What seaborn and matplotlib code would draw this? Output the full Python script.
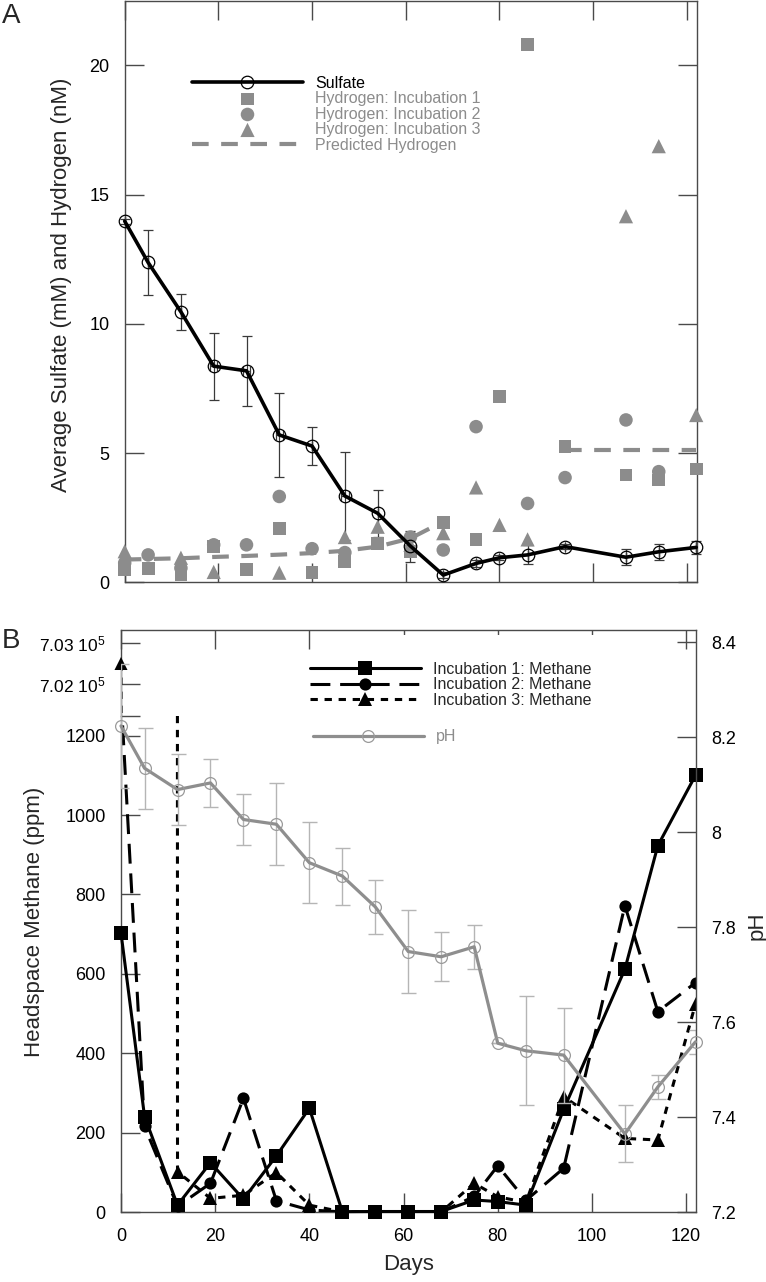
import numpy as np
import matplotlib
matplotlib.use('Agg')
import matplotlib.pyplot as plt
from matplotlib.patches import Rectangle
import seaborn as sns

# ---------------------------------------------------------------------------
# data
# ---------------------------------------------------------------------------
days = [0, 5, 12, 19, 26, 33, 40, 47, 54, 61, 68, 75, 80, 86, 94, 107, 114, 122]

# panel A
sulfate = [13.97, 12.37, 10.46, 8.36, 8.18, 5.70, 5.27, 3.34, 2.67, 1.40,
           0.28, 0.73, 0.95, 1.06, 1.38, 0.97, 1.18, 1.35]
sulfate_err = [0.1, 1.26, 0.7, 1.29, 1.35, 1.64, 0.73, 1.71, 0.9, 0.6,
               0.1, 0.15, 0.1, 0.37, 0.1, 0.3, 0.3, 0.25]
sulfate_xerr = [0, 0, 0, 0.8, 0.8, 0.8, 0, 0.8, 0, 0, 0, 0, 0, 0, 0, 0, 0, 0]

h2_inc1 = [0.5, 0.54, 0.3, 1.38, 0.48, 2.09, 0.37, 0.8, 1.5, 1.2,
           2.3, 1.64, 7.18, 20.8, 5.24, 4.15, 3.96, 4.38]
h2_inc2 = [0.75, 1.06, 0.55, 1.45, 1.45, 3.32, 1.3, 1.15, np.nan, 1.75,
           1.25, 6.02, np.nan, 3.05, 4.05, 6.28, 4.28, np.nan]
h2_inc3 = [1.2, np.nan, 0.95, 0.4, np.nan, 0.37, np.nan, 1.75, 2.15, 1.45,
           1.9, 3.67, 2.22, 1.66, np.nan, 14.16, 16.87, 6.47]
h2_pred = [0.88, 0.9, 0.93, 0.98, 1.02, 1.07, 1.13, 1.22, 1.38, 1.7,
           2.35, np.nan, np.nan, np.nan, 5.12, 5.12, 5.12, 5.12]

# panel B (ppm); day-0 values of incubations 2 and 3 lie above the break
ch4_inc1 = [703, 241, 18, 125, 33, 142, 262, 1.5, 2, 2,
            2, 31, 27, 18, 259, 612, 923, 1100]
ch4_inc2 = [1300, 216, 15, 73, 287, 29, 6, 1, 1, 1,
            1, 40, 117, 30, 111, 772, 505, 578]
ch4_inc3 = [702500, np.nan, 102, 35, 43, 100, 18, 1, 1, 1,
            1, 73, 39, 25, 291, 186, 182, 525]

ph = [8.224, 8.135, 8.09, 8.104, 8.027, 8.017, 7.936, 7.908, 7.843, 7.749,
      7.738, 7.759, 7.556, 7.54, 7.531, 7.365, 7.464, 7.559]
ph_err = [0.13, 0.085, 0.075, 0.05, 0.053, 0.086, 0.085, 0.06, 0.057, 0.087,
          0.052, 0.046, 0.0, 0.115, 0.1, 0.06, 0.026, 0.025]

# ---------------------------------------------------------------------------
# style
# ---------------------------------------------------------------------------
sns.set_theme(style='ticks')
plt.rcParams['font.family'] = ['Liberation Sans', 'DejaVu Sans']
plt.rcParams['mathtext.fontset'] = 'custom'
plt.rcParams['mathtext.rm'] = 'Liberation Sans'
plt.rcParams['mathtext.it'] = 'Liberation Sans:italic'

GREY = '#8c8c8c'
SPINE = '#4a4a4a'
W, H = 766, 1282
TICK = dict(direction='in', length=13.5, width=1.0, color=SPINE,
            labelsize=13, pad=11, labelcolor='black')
LEG = dict(loc='upper left', bbox_transform=None, frameon=False,
           fontsize=11.5, handlelength=6.95, handletextpad=0.75,
           labelspacing=0.03, borderpad=0.2, borderaxespad=0)


def fig_rect(x0, y0, x1, y1):
    """pixel box (top-left origin) -> figure fraction rect"""
    return [x0 / W, 1 - y1 / H, (x1 - x0) / W, (y1 - y0) / H]


def style_spines(ax, show):
    for side, sp in ax.spines.items():
        sp.set_visible(side in show)
        sp.set_color(SPINE)
        sp.set_linewidth(1.0)


fig = plt.figure(figsize=(W / 100, H / 100), dpi=100)
LEG['bbox_transform'] = fig.transFigure
days_arr = np.array(days)
XMAX = 122.1

# ===========================================================================
# PANEL A
# ===========================================================================
axA = fig.add_axes(fig_rect(124.7, 0.6, 696.7, 582.3))

axA.errorbar(days, sulfate, yerr=sulfate_err, xerr=sulfate_xerr, fmt='none',
             ecolor='#3a3a3a', elinewidth=0.9, capsize=3.6, capthick=0.9,
             zorder=2, clip_on=False)

pred = np.array(h2_pred)
first = days_arr <= 68
second = days_arr >= 94
sns.lineplot(x=days_arr[first], y=pred[first], ax=axA, color=GREY, lw=3.0,
             linestyle=(0, (4, 3)), estimator=None, sort=False, zorder=2)
h_pred = axA.lines[-1]
sns.lineplot(x=days_arr[second], y=pred[second], ax=axA, color=GREY, lw=3.0,
             linestyle=(0, (4, 3)), estimator=None, sort=False, zorder=2)

sns.scatterplot(x=days, y=h2_inc1, ax=axA, marker='s', s=85, color=GREY,
                edgecolor='none', linewidth=0, zorder=3, clip_on=False)
h_h1 = axA.collections[-1]
sns.scatterplot(x=days, y=h2_inc2, ax=axA, marker='o', s=95, color=GREY,
                edgecolor='none', linewidth=0, zorder=3, clip_on=False)
h_h2 = axA.collections[-1]
sns.scatterplot(x=days, y=h2_inc3, ax=axA, marker='^', s=105, color=GREY,
                edgecolor='none', linewidth=0, zorder=3, clip_on=False)
h_h3 = axA.collections[-1]

sns.lineplot(x=days, y=sulfate, ax=axA, color='black', lw=2.6, marker='o',
             markersize=9, markerfacecolor='none', markeredgecolor='black',
             markeredgewidth=0.9, estimator=None, sort=False, zorder=4,
             clip_on=False)
h_sulf = axA.lines[-1]

axA.set_xlim(0, XMAX)
axA.set_ylim(0, 22.5)
axA.set_xticks(range(0, 121, 20))
axA.set_yticks([0, 5, 10, 15, 20])
axA.tick_params(axis='both', which='major', **TICK)
axA.tick_params(axis='x', bottom=True, top=True, labelbottom=False)
axA.tick_params(axis='y', left=True, right=True, labelright=False)
style_spines(axA, ('left', 'right', 'top', 'bottom'))
axA.set_xlabel('')
axA.set_ylabel('')
if axA.get_legend():
    axA.get_legend().remove()

axA.legend([h_sulf, h_h1, h_h2, h_h3, h_pred],
           ['Sulfate', 'Hydrogen: Incubation 1', 'Hydrogen: Incubation 2',
            'Hydrogen: Incubation 3', 'Predicted Hydrogen'],
           bbox_to_anchor=(188.8 / W, 1 - 72.5 / H),
           labelcolor=['black', GREY, GREY, GREY, GREY], **LEG)

fig.text(62 / W, 1 - 285 / H, 'Average Sulfate (mM) and Hydrogen (nM)',
         rotation=90, ha='center', va='center', fontsize=16)
fig.text(2 / W, 1 - 3 / H, 'A', ha='left', va='top', fontsize=20)

# ===========================================================================
# PANEL B
# ===========================================================================
X0B, X1B = 121, 696
axL = fig.add_axes(fig_rect(X0B, 715.7, X1B, 1212.3))
axU = fig.add_axes(fig_rect(X0B, 630, X1B, 715.7))
axP = fig.add_axes(fig_rect(X0B, 630, X1B, 1212.3))

line_kw = dict(estimator=None, sort=False, markeredgewidth=0,
               markeredgecolor='black', color='black', lw=2.2)
DASH2 = (0, (6.5, 3.2))
DASH3 = (0, (2.4, 2.2))

# lower segment: all three incubations
sns.lineplot(x=days, y=ch4_inc2, ax=axL, marker='o', markersize=8.8,
             linestyle=DASH2, zorder=3, **line_kw)
h_m2 = axL.lines[-1]
sns.lineplot(x=days, y=ch4_inc1, ax=axL, marker='s', markersize=9.4,
             linestyle='-', zorder=3, clip_on=False, **line_kw)
h_m1 = axL.lines[-1]
sns.lineplot(x=days, y=ch4_inc3, ax=axL, marker='^', markersize=9.4,
             linestyle=DASH3, zorder=3, **line_kw)
h_m3 = axL.lines[-1]

# upper segment: the off-scale start of incubations 2 and 3
sns.lineplot(x=days, y=ch4_inc2, ax=axU, marker='o', markersize=8.8,
             linestyle=DASH2, zorder=3, **line_kw)
sns.lineplot(x=days, y=ch4_inc3, ax=axU, linestyle=DASH3, zorder=3,
             **line_kw)
inc3 = np.array(ch4_inc3)
high = inc3 > 1250
sns.scatterplot(x=days_arr[high], y=inc3[high], ax=axU, marker='^', s=88,
                color='black', edgecolor='none', linewidth=0, zorder=4,
                clip_on=False)

for ax in (axL, axU):
    if ax.get_legend():
        ax.get_legend().remove()
    ax.set_xlim(0, XMAX)
    ax.set_xlabel('')
    ax.set_ylabel('')
    ax.patch.set_visible(False)

axL.set_ylim(0, 1250)
axL.set_yticks([0, 200, 400, 600, 800, 1000, 1200, 1250])
axL.set_yticklabels(['0', '200', '400', '600', '800', '1000', '1200', ''])
axL.set_xticks(range(0, 121, 20))
axL.tick_params(axis='both', **TICK)
axL.tick_params(axis='x', bottom=True, top=False)
axL.tick_params(axis='y', left=True, right=False)
style_spines(axL, ('left', 'bottom'))
axL.set_xlabel('Days', fontsize=16, labelpad=7)

axU.set_ylim(701245, 703305)
axU.set_yticks([702000, 703000])
axU.set_yticklabels(['7.02 10$^5$', '7.03 10$^5$'])
axU.set_xticks(range(0, 121, 20))
axU.tick_params(axis='both', **TICK)
axU.tick_params(axis='y', labelsize=12.5)
axU.tick_params(axis='x', bottom=False, top=True, labelbottom=False,
                labeltop=False)
axU.tick_params(axis='y', left=True, right=False)
style_spines(axU, ('left', 'top'))
axU.add_patch(Rectangle((0.333, 0.55), 0.49, 0.392, transform=axU.transAxes,
                        facecolor='white', edgecolor='none', zorder=2))

# pH on the right axis
axP.errorbar(days, ph, yerr=ph_err, fmt='none', ecolor='#b5b5b5',
             elinewidth=1.0, capsize=5.4, capthick=1.0, zorder=2)
sns.lineplot(x=days, y=ph, ax=axP, color='#8e8e8e', lw=2.3, marker='o',
             markersize=8.5, markerfacecolor='none', markeredgecolor='#9a9a9a',
             markeredgewidth=0.9, estimator=None, sort=False, zorder=3,
             clip_on=False)
h_ph = axP.lines[-1]
if axP.get_legend():
    axP.get_legend().remove()
axP.set_xlim(0, XMAX)
axP.set_ylim(7.2, 8.426)
axP.set_yticks([7.2, 7.4, 7.6, 7.8, 8.0, 8.2, 8.4])
axP.set_yticklabels(['7.2', '7.4', '7.6', '7.8', '8', '8.2', '8.4'])
axP.yaxis.tick_right()
axP.tick_params(axis='y', **TICK)
axP.tick_params(axis='y', left=False, right=True, labelleft=False,
                labelright=True)
axP.tick_params(axis='x', bottom=False, top=False, labelbottom=False)
axP.set_xlabel('')
axP.set_ylabel('')
axP.patch.set_visible(False)
style_spines(axP, ('right',))

legB = axP.legend([h_m1, h_m2, h_m3],
                  ['Incubation 1: Methane', 'Incubation 2: Methane',
                   'Incubation 3: Methane'],
                  bbox_to_anchor=(306.8 / W, 1 - 658.5 / H), **LEG)
axP.add_artist(legB)
axP.legend([h_ph], ['pH'], bbox_to_anchor=(309.8 / W, 1 - 726 / H),
           labelcolor=GREY, **LEG)

fig.text(35 / W, 1 - 922 / H, 'Headspace Methane (ppm)', rotation=90,
         ha='center', va='center', fontsize=16)
fig.text(757 / W, 1 - 926 / H, 'pH', rotation=90, ha='center', va='center',
         fontsize=16)
fig.text(2 / W, 1 - 628 / H, 'B', ha='left', va='top', fontsize=20)

fig.savefig('out.png', dpi=100)
